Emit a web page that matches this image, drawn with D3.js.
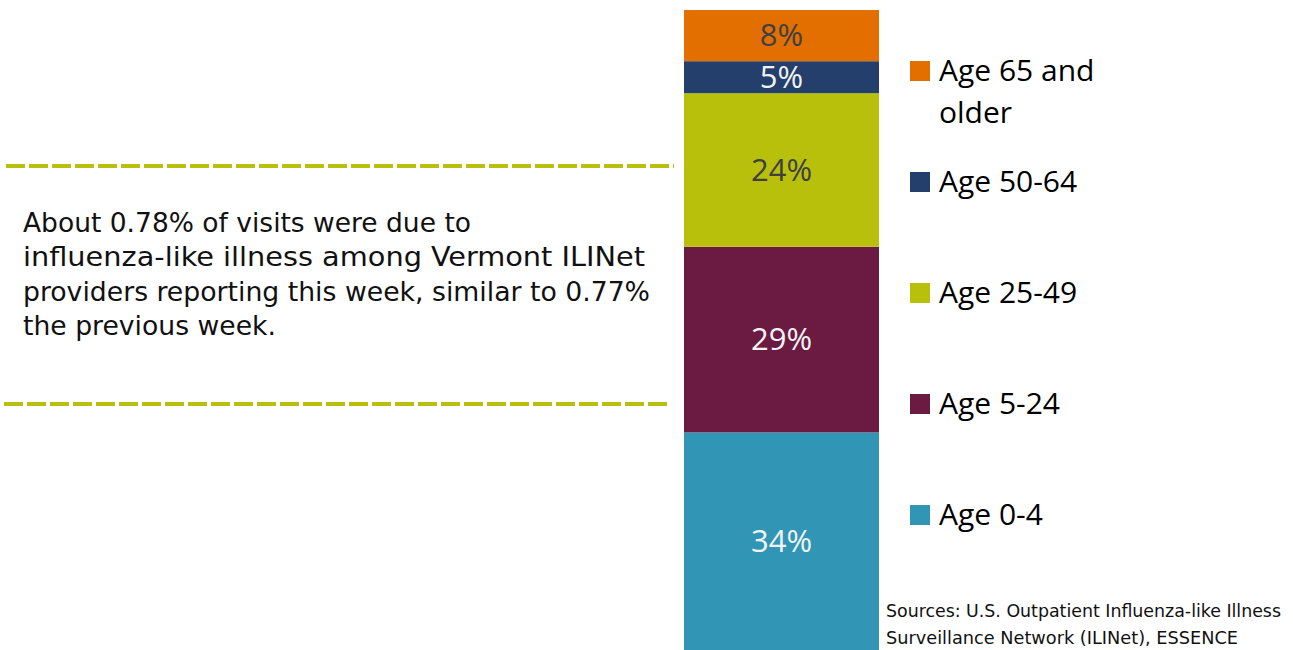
<!DOCTYPE html>
<html>
<head>
<meta charset="utf-8">
<script src="https://cdn.jsdelivr.net/npm/d3@7"></script>
<style>
  body { margin: 0; background: #fff; }
  svg { display: block; }
</style>
</head>
<body>
<svg id="chart" width="1293" height="650"></svg>
<script>
// age groups, bottom to top
const categories = ["Age 0-4", "Age 5-24", "Age 25-49", "Age 50-64", "Age 65 and older"];
const values = [34, 29, 24, 5, 8];
const colors = ["#3195b5", "#6b1a42", "#b8c00c", "#243f6b", "#e36f00"];
const labelColors = ["#f2f2f2", "#f2f2f2", "#404040", "#f2f2f2", "#404040"];
const noteLines = [
  "About 0.78% of visits were due to",
  "influenza-like illness among Vermont ILINet",
  "providers reporting this week, similar to 0.77%",
  "the previous week."
];
const noteWidths = [448, 622, 627, 253];
const sourceLines = [
  "Sources: U.S. Outpatient Influenza-like Illness",
  "Surveillance Network (ILINet), ESSENCE"
];
const sourceWidths = [395, 352];

const svg = d3.select("#chart");

const y = d3.scaleLinear().domain([0, 100]).range([650, 10]);
const x = d3.scaleBand().domain(["week"]).range([684, 879]).padding(0);

let acc = 0;
const stacked = values.map((v, i) => {
  const d = { cat: categories[i], v: v, y0: acc, y1: acc + v, i: i };
  acc += v;
  return d;
});

svg.selectAll("rect.seg")
   .data(stacked)
   .join("rect")
   .attr("class", "seg")
   .attr("x", x("week"))
   .attr("width", x.bandwidth())
   .attr("y", d => y(d.y1))
   .attr("height", d => y(d.y0) - y(d.y1))
   .attr("fill", d => colors[d.i]);

svg.selectAll("text.val")
   .data(stacked)
   .join("text")
   .attr("class", "val")
   .attr("x", x("week") + x.bandwidth() / 2)
   .attr("y", d => (y(d.y0) + y(d.y1)) / 2 + 10.5)
   .attr("text-anchor", "middle")
   .style("font-family", "'Open Sans', sans-serif")
   .style("font-size", "31px")
   .attr("fill", d => labelColors[d.i])
   .text(d => d.v + "%");

// legend, top to bottom
const legend = stacked.slice().reverse();
const ly = d3.scaleLinear().domain([0, 4]).range([61, 505]);

const lg = svg.selectAll("g.leg")
   .data(legend)
   .join("g")
   .attr("class", "leg")
   .attr("transform", (d, k) => `translate(910,${ly(k)})`);

lg.append("rect")
  .attr("width", 20)
  .attr("height", 20)
  .attr("fill", d => colors[d.i]);

lg.append("text")
  .attr("x", 29)
  .attr("y", 20)
  .style("font-family", "'Open Sans', sans-serif")
  .style("font-size", "30px")
  .attr("fill", "#000")
  .each(function(d) {
    const t = d3.select(this);
    if (d.cat === "Age 65 and older") {
      t.append("tspan").attr("x", 29).text("Age 65 and");
      t.append("tspan").attr("x", 29).attr("dy", 42).text("older");
    } else {
      t.text(d.cat);
    }
  });

// dashed guide lines around the note
svg.append("line")
   .attr("x1", 6).attr("x2", 674)
   .attr("y1", 166).attr("y2", 166)
   .attr("stroke", "#b8c00c")
   .attr("stroke-width", 4)
   .attr("stroke-dasharray", "19,4");

svg.append("line")
   .attr("x1", 4).attr("x2", 668)
   .attr("y1", 404).attr("y2", 404)
   .attr("stroke", "#b8c00c")
   .attr("stroke-width", 4)
   .attr("stroke-dasharray", "19,4");

svg.selectAll("text.note")
   .data(noteLines)
   .join("text")
   .attr("class", "note")
   .attr("x", 23)
   .attr("y", (d, i) => 232 + i * 34.3)
   .attr("textLength", (d, i) => noteWidths[i])
   .attr("lengthAdjust", "spacingAndGlyphs")
   .style("font-family", "'DejaVu Sans Condensed', 'Liberation Sans Narrow', Roboto, sans-serif")
   .style("font-size", "27px")
   .attr("fill", "#111")
   .text(d => d);

svg.selectAll("text.src")
   .data(sourceLines)
   .join("text")
   .attr("class", "src")
   .attr("x", 886)
   .attr("y", (d, i) => 617 + i * 27)
   .attr("textLength", (d, i) => sourceWidths[i])
   .attr("lengthAdjust", "spacingAndGlyphs")
   .style("font-family", "'DejaVu Sans Condensed', 'Liberation Sans Narrow', Roboto, sans-serif")
   .style("font-size", "17px")
   .attr("fill", "#111")
   .text(d => d);
</script>
</body>
</html>
